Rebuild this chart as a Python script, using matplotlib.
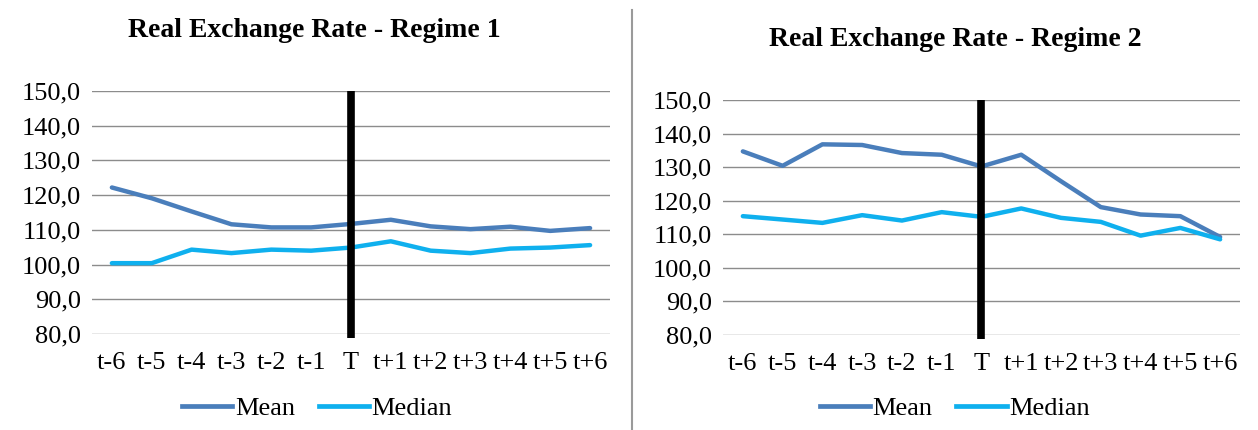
import numpy as np
import matplotlib
matplotlib.use("Agg")
import matplotlib.pyplot as plt
from matplotlib.lines import Line2D

periodos = ['t-6', 't-5', 't-4', 't-3', 't-2', 't-1', 'T',
            't+1', 't+2', 't+3', 't+4', 't+5', 't+6']

# regime 1
media_r1 = [122.2, 119.1, 115.3, 111.6, 110.7, 110.7, 111.7,
            112.9, 111.0, 110.2, 110.9, 109.7, 110.5]
mediana_r1 = [100.4, 100.4, 104.3, 103.3, 104.3, 104.0, 104.9,
              106.7, 104.0, 103.3, 104.6, 104.9, 105.6]

# regime 2
media_r2 = [134.7, 130.4, 136.8, 136.6, 134.2, 133.7, 130.2,
            133.7, 125.8, 118.1, 115.9, 115.4, 109.2]
mediana_r2 = [115.4, 114.4, 113.4, 115.7, 114.1, 116.6, 115.2,
              117.7, 114.9, 113.7, 109.6, 111.9, 108.5]

cor_media = '#4a7ebb'
cor_mediana = '#0fb0ee'
fonte = 'Liberation Serif'

fig = plt.figure(figsize=(12.58, 4.30), dpi=100)


def painel(pos, titulo, title_xy, leg_xy, media, mediana):
    ax = fig.add_axes(pos)
    x = np.arange(len(periodos))
    ax.plot(x, media, color=cor_media, lw=3.2, solid_capstyle='round', zorder=3)
    ax.plot(x, mediana, color=cor_mediana, lw=3.2, solid_capstyle='round', zorder=3)
    # marca do choque em T
    ax.vlines(periodos.index('T'), 78.8, 150, color='black', lw=5.5,
              zorder=4, clip_on=False)
    ax.set_xlim(-0.5, len(periodos) - 0.5)
    ax.set_ylim(80, 150)
    ax.set_yticks(np.arange(80, 151, 10))
    ax.set_yticklabels([('%.1f' % v).replace('.', ',') for v in np.arange(80, 151, 10)])
    ax.set_xticks(x)
    ax.set_xticklabels(periodos)
    ax.grid(axis='y', color='#8c8c8c', lw=1.0)
    ax.set_axisbelow(True)
    for s in ax.spines.values():
        s.set_visible(False)
    ax.tick_params(length=0, labelsize=19)
    ax.tick_params(axis='y', pad=8)
    ax.tick_params(axis='x', pad=13)
    for t in ax.get_xticklabels() + ax.get_yticklabels():
        t.set_fontfamily(fonte)
    fig.text(title_xy[0], title_xy[1], titulo, ha='center', va='center',
             fontsize=20, fontweight='bold', family=fonte)
    handles = [Line2D([], [], color=cor_media, lw=3.4),
               Line2D([], [], color=cor_mediana, lw=3.4)]
    fig.legend(handles, ['Mean', 'Median'], loc='center', bbox_to_anchor=leg_xy,
               ncol=2, frameon=False, prop={'family': fonte, 'size': 19},
               handlelength=1.9, handletextpad=0.1, columnspacing=0.9)
    return ax


painel([0.0731, 0.2233, 0.4118, 0.5651], 'Real Exchange Rate - Regime 1',
       (0.250, 0.930), (0.252, 0.051), media_r1, mediana_r1)
painel([0.5747, 0.2209, 0.4110, 0.5465], 'Real Exchange Rate - Regime 2',
       (0.759, 0.907), (0.759, 0.051), media_r2, mediana_r2)

# divisoria entre os dois graficos
fig.add_artist(Line2D([0.5024, 0.5024], [0.0, 0.977], color='#9a9a9a', lw=1.5,
                      transform=fig.transFigure))

fig.savefig('out.png', dpi=100)
